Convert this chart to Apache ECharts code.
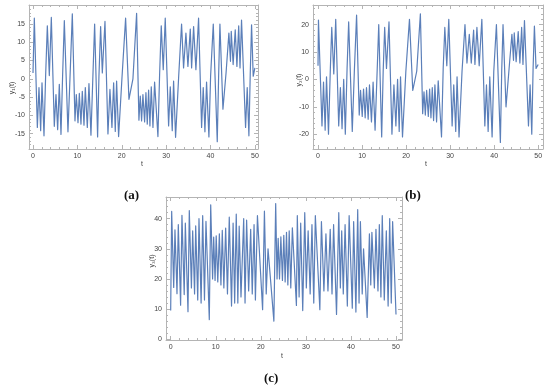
<!DOCTYPE html>
<html><head><meta charset="utf-8">
<script src="https://cdn.jsdelivr.net/npm/echarts@6/dist/echarts.min.js"></script>
<style>html,body{margin:0;padding:0;background:#fff}#c{width:550px;height:390px}</style>
</head><body><div id="c"></div>
<script>
// ---- data: turning points ----
const tA = [0,0.30,0.98,1.35,1.73,2.03,2.48,2.85,3.23,3.68,4.13,4.80,5.18,5.56,5.93,6.31,6.68,7.06,7.88,8.33,8.86,9.46,9.76,10.14,10.44,10.81,11.11,11.49,11.79,12.24,12.61,13.06,13.51,13.89,14.56,14.86,15.24,15.62,16.22,16.89,17.34,17.79,18.17,18.54,18.84,19.29,20.05,20.87,21.62,22.52,23.35,23.87,24.17,24.47,24.77,25.15,25.45,25.75,26.05,26.35,26.65,27.03,27.40,28.15,28.53,28.90,29.35,29.80,30.56,30.93,31.38,31.68,32.13,32.81,33.48,33.93,34.46,34.91,35.44,35.74,36.19,36.71,37.31,37.99,38.36,38.74,39.11,39.64,40.02,40.62,41.52,41.82,42.12,42.8,43.5,44.14,44.5,44.67,45.1,45.57,45.95,46.35,46.65,46.99,47.9,48.27,48.65,48.95,49.25,49.62,50];
const yA = [1.6,16.6,-13.3,-2.4,-14.2,-1.1,-15.6,1.0,14.5,0.9,16.8,-13.0,-4.3,-13.9,-1.5,-15.2,1.2,15.9,-14.5,0.0,17.8,-11.5,-4.3,-12.0,-4.0,-12.4,-3.4,-12.7,-2.4,-13.3,-1.3,-15.4,1.2,15.0,-15.9,0.7,14.3,1.6,15.7,-15.1,-2.9,-13.3,-1.1,-14.4,-0.6,-15.8,0.3,16.6,-5.6,0.0,17.9,-11.3,-4.7,-11.5,-4.3,-11.8,-3.8,-12.4,-3.1,-12.9,-2.2,-13.3,-0.9,-15.8,1.2,14.5,2.5,16.6,-12.9,-2.2,-14.2,-0.6,-16.0,0.3,15.0,3.0,12.5,3.4,13.6,3.0,14.3,2.5,16.6,-13.3,-2.4,-14.5,-0.9,-15.9,0.7,15.0,-17.2,0.3,15.0,-8.3,1.6,12.5,4.8,13.0,3.9,13.4,3.4,14.5,3.0,16.1,-13.3,-2.4,-15.6,1.2,14.8,0.7,3.0];

const tB = [0,0.1,0.9,1.25,1.62,1.93,2.38,2.8,3.12,3.58,4.02,4.7,5.08,5.46,5.83,6.2,6.6,6.96,7.78,8.25,8.76,9.36,9.66,10.04,10.34,10.71,11.01,11.39,11.69,12.14,12.51,12.96,13.45,13.79,14.46,14.8,15.14,15.55,16.12,16.79,17.24,17.69,18.07,18.44,18.74,19.19,19.95,20.77,21.52,22.42,23.25,23.77,24.07,24.37,24.67,25.05,25.35,25.65,25.95,26.25,26.55,26.93,27.3,28.05,28.43,28.8,29.25,29.7,30.46,30.83,31.28,31.58,32.03,32.71,33.38,33.83,34.36,34.81,35.34,35.64,36.09,36.61,37.21,37.89,38.26,38.64,39.01,39.54,39.92,40.52,41.42,41.72,42.02,42.7,43.4,44.04,44.4,44.57,45.0,45.47,45.85,46.25,46.55,46.89,47.8,48.17,48.55,48.85,49.15,49.52,50];
const yB = [5,21.7,-17,-1,-18.5,1,-20,4,19,2,22,-17,-3,-18,0,-20,4,21,-19,3,23.5,-13,-4,-13.5,-3.5,-14,-3,-14.5,-2,-15.5,-1,-18.5,4,20,-21,3,19,4,21,-20,-2,-17,0,-19,1,-21,3,22,-4,3,24,-12.5,-4.5,-13,-4,-13.5,-3.5,-14,-3,-15,-2,-15.5,-0.5,-21,4,19,5,22,-17,-2,-19,1,-21,3,20,6,16.5,6,18,5.5,19,5,22,-17,-2,-19,1,-21,3,20,-23,3,20,-10,4,16.5,7,17,6.5,17.5,6,19,5.5,21.5,-17,-2,-20,4,19.5,4,5.5];

const tC = [0,0.22,0.67,0.95,1.4,1.69,2.2,2.5,3.0,3.25,3.84,4.13,4.6,4.88,5.3,5.55,6.0,6.28,6.75,7.1,7.5,7.83,8.57,8.88,9.3,9.54,9.85,10.1,10.45,10.8,11.15,11.45,11.8,12.2,12.6,13.0,13.5,13.85,14.2,14.55,14.9,15.2,15.6,16.2,16.5,16.85,17.3,17.75,18.1,18.5,18.8,19.25,20.4,20.8,21.2,21.6,22.9,23.3,23.6,23.85,24.15,24.45,24.8,25.1,25.4,25.7,26.0,26.3,26.65,27.0,27.9,28.1,28.5,28.85,29.3,29.75,30.1,30.5,30.95,31.35,31.75,32.1,33.1,33.45,34.0,34.45,34.9,35.4,35.8,36.15,36.8,37.3,37.65,37.95,38.3,38.7,39.2,39.6,40.3,40.6,41.1,41.5,41.8,42.1,42.5,42.8,43.6,44.1,44.4,44.65,45.2,45.55,46.0,46.3,46.65,46.95,47.4,47.85,48.25,48.6,48.95,49.25,50];
const yC = [9.5,42.4,17.2,36.3,15.1,38.0,11.3,41.1,14.8,38.5,9.1,42.7,17,36.0,15,37.6,13,40.0,12,41.0,13,39.1,6.5,44.6,20,33.9,19.5,34.3,19,35.0,18,36.1,17,36.9,15,40.5,11,38.5,12,41.5,12,37.5,14,40,12,39.5,16,36.5,15,38,13,41,9.8,42.5,15,30,6,45,20,33.5,20,34,19.5,34.5,19,35.5,18,36,17,37,11.2,41,14,38.5,9.5,42,17,36,15,38,12,41,9.8,39,16,35,16,36.5,15,38,8.2,42,17,36,15,38,11,41,10.3,39,9,43,12,39,15,30,7.2,35,18,35.5,17,36.5,16,38,14,41,13,36,11,40,12,39,8.2];

// tick label values
const ticksT = [0,10,20,30,40,50];
const minorT = [2,4,6,8,12,14,16,18,22,24,26,28,32,34,36,38,42,44,46,48];
const ticksA = [-15,-10,-5,0,5,10,15];
const minorA = [-18,-17,-16,-14,-13,-12,-11,-9,-8,-7,-6,-4,-3,-2,-1,1,2,3,4,6,7,8,9,11,12,13,14,16,17,18,19,20];
const ticksB = [-20,-10,0,10,20];
const minorB = [-24,-22,-18,-16,-14,-12,-8,-6,-4,-2,2,4,6,8,12,14,16,18,22,24,26];
const ticksC = [0,10,20,30,40];
const minorC = [2,4,6,8,12,14,16,18,22,24,26,28,32,34,36,38,42,44,46];

const zip = (t, v) => t.map((x, i) => [x, v[i]]);

const FRAME = '#b4b4b4';
const LABEL = '#444';
const LINE = '#5b7fb9';
const FONT = 'Liberation Sans';

const grids = [
  {left: 29, top: 5, width: 229, height: 144, xmin: -0.9, xmax: 50.7, ymin: -19.2, ymax: 20.2, yt: ticksA, ym: minorA, data: zip(tA, yA)},
  {left: 313, top: 5, width: 230, height: 144, xmin: -1.14, xmax: 51.1, ymin: -25.4, ymax: 27.2, yt: ticksB, ym: minorB, data: zip(tB, yB)},
  {left: 166, top: 197, width: 236, height: 143, xmin: -1.04, xmax: 51.33, ymin: -0.27, ymax: 47.2, yt: ticksC, ym: minorC, data: zip(tC, yC)}
];

const grid = [], xAxis = [], yAxis = [], series = [];
function mkAxis(gi, pos, min, max, majors, minors, labels) {
  const base = {gridIndex: gi, type: 'value', position: pos, min, max, splitLine: {show: false}, z: 3};
  const out = [];
  out.push(Object.assign({}, base, {
    axisLine: {show: true, onZero: false, lineStyle: {color: FRAME, width: 1}},
    axisTick: {show: true, inside: true, length: 4, customValues: majors, lineStyle: {color: FRAME}},
    axisLabel: labels ? {show: true, customValues: majors, color: LABEL, fontSize: 7, fontFamily: FONT, margin: 4} : {show: false}
  }));
  out.push(Object.assign({}, base, {
    axisLine: {show: false, onZero: false},
    axisTick: {show: true, inside: true, length: 2, customValues: minors, lineStyle: {color: FRAME}},
    axisLabel: {show: false}
  }));
  return out;
}
grids.forEach((g, gi) => {
  grid.push({left: g.left, top: g.top, width: g.width, height: g.height, containLabel: false});
  const xs = mkAxis(gi, 'bottom', g.xmin, g.xmax, ticksT, minorT, true)
    .concat(mkAxis(gi, 'top', g.xmin, g.xmax, ticksT, minorT, false));
  const ys = mkAxis(gi, 'left', g.ymin, g.ymax, g.yt, g.ym, true)
    .concat(mkAxis(gi, 'right', g.ymin, g.ymax, g.yt, g.ym, false));
  const xi = xAxis.length, yi = yAxis.length;
  xAxis.push(...xs); yAxis.push(...ys);
  series.push({type: 'line', xAxisIndex: xi, yAxisIndex: yi, data: g.data, showSymbol: false, smooth: false,
    lineStyle: {color: LINE, width: 1.2, join: 'round'}, animation: false, clip: true});
});

const ttl = {fill: LABEL, fontSize: 7, fontFamily: FONT};
const cap = {fill: '#111', fontSize: 13, fontWeight: 'bold', fontFamily: 'Liberation Serif'};
function vt(cx, cy, txt) {
  return {type: 'text', x: cx, y: cy, rotation: Math.PI/2, style: Object.assign({text: txt, align: 'center', verticalAlign: 'middle'}, ttl)};
}
const graphic = [
  vt(12, 88, 'y\u2081(t)'),
  vt(299, 80, 'y\u2082(t)'),
  vt(152, 261, 'y\u2083(t)'),
  {type: 'text', x: 141, y: 161, style: Object.assign({text: 't'}, ttl)},
  {type: 'text', x: 425, y: 161, style: Object.assign({text: 't'}, ttl)},
  {type: 'text', x: 281, y: 353, style: Object.assign({text: 't'}, ttl)},
  {type: 'text', x: 124, y: 189, style: Object.assign({text: '(a)'}, cap)},
  {type: 'text', x: 405, y: 189, style: Object.assign({text: '(b)'}, cap)},
  {type: 'text', x: 264, y: 372, style: Object.assign({text: '(c)'}, cap)}
];

const chart = echarts.init(document.getElementById('c'), null, {renderer: 'canvas'});
chart.setOption({animation: false, backgroundColor: '#fff', grid, xAxis, yAxis, series, graphic});
</script>
</body></html>
